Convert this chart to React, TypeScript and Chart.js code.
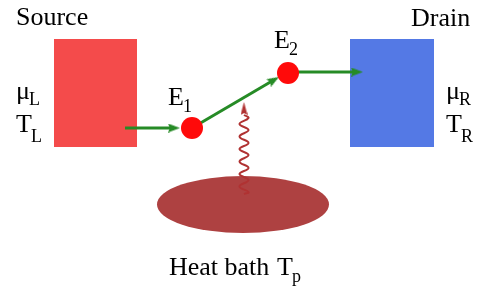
import React, { useEffect, useRef } from "react";
import { Chart, registerables } from "chart.js";
Chart.register(...registerables);

const W = 485;
const H = 288;

// Reservoirs: [left, right, top, bottom]
const sourceBox = [54, 137, 39, 147];
const drainBox = [350, 434, 39, 147];

// Energy levels E1, E2 (centres)
const levelX = [192, 288];
const levelY = [128, 73];

// Transport path: start point -> arrow tip
const arrowIn = [{ x: 125, y: 128 }, { x: 180, y: 128 }];
const arrowHop = [{ x: 192, y: 128 }, { x: 279, y: 77 }];
const arrowOut = [{ x: 288, y: 72 }, { x: 363, y: 72 }];

// Phonon (wavy) line from bath up to the hop: zig-zag extremes
const waveX = [244, 248.5, 239.5, 248.5, 239.5, 248.5, 239.5, 248.5, 239.5, 248.5, 239.5, 248.5, 239.5, 248.5, 244];
const waveY = [115, 118, 124, 130, 136.5, 143, 149, 155, 161.5, 168, 174, 180, 186.5, 192, 194];
const waveTip = [{ x: 244, y: 115 }, { x: 244, y: 102 }];

// Heat bath ellipse: centre and radii
const bathCenter = [243, 204.5];
const bathRadii = [86, 28.5];

// Labels
const labels = [
  { text: "Source", x: 16, y: 25 },
  { text: "Drain", x: 411, y: 26 },
  { text: "μ", sub: "L", x: 16, y: 99, drop: 6 },
  { text: "T", sub: "L", x: 16, y: 132, drop: 10 },
  { text: "μ", sub: "R", x: 446, y: 99, drop: 6 },
  { text: "T", sub: "R", x: 446, y: 132, drop: 10 },
  { text: "E", sub: "1", x: 168, y: 105, drop: 7 },
  { text: "E", sub: "2", x: 274, y: 48, drop: 7 },
  { text: "Heat bath", x: 169, y: 275 },
  { text: "T", sub: "p", x: 277, y: 275, drop: 7 },
];

const GREEN = "#268B26";
const WAVE = "#B03232";
const BATH = "#AE4141";

function makeHead(color: string, len: number, wid: number) {
  const c = document.createElement("canvas");
  c.width = len;
  c.height = wid;
  const g = c.getContext("2d")!;
  g.fillStyle = color;
  g.beginPath();
  g.moveTo(0, 0);
  g.lineTo(len, wid / 2);
  g.lineTo(0, wid);
  g.lineTo(len * 0.15, wid / 2);
  g.closePath();
  g.fill();
  return c;
}

function arrowDataset(pts: { x: number; y: number }[], head: HTMLCanvasElement, color: string, width: number) {
  const [a, b] = pts;
  const dx = b.x - a.x;
  const dy = b.y - a.y;
  const L = Math.hypot(dx, dy);
  const half = head.width / 2;
  const c = { x: b.x - (dx / L) * half, y: b.y - (dy / L) * half };
  const rot = (Math.atan2(dy, dx) * 180) / Math.PI;
  return {
    type: "line" as const,
    data: [a, c],
    borderColor: color,
    backgroundColor: color,
    borderWidth: width,
    tension: 0,
    fill: false,
    pointStyle: ["circle", head] as any,
    pointRadius: [0, 6],
    pointRotation: [0, rot],
    pointBorderWidth: 0,
  };
}

const bathPlugin = {
  id: "bath",
  beforeDatasetsDraw(chart: any) {
    const { ctx, scales } = chart;
    const cx = scales.x.getPixelForValue(bathCenter[0]);
    const cy = scales.y.getPixelForValue(bathCenter[1]);
    const rx = Math.abs(scales.x.getPixelForValue(bathCenter[0] + bathRadii[0]) - cx);
    const ry = Math.abs(scales.y.getPixelForValue(bathCenter[1] + bathRadii[1]) - cy);
    ctx.save();
    ctx.fillStyle = BATH;
    ctx.beginPath();
    ctx.ellipse(cx, cy, rx, ry, 0, 0, Math.PI * 2);
    ctx.fill();
    ctx.restore();
  },
};

const labelPlugin = {
  id: "labels",
  afterDatasetsDraw(chart: any) {
    const { ctx, scales } = chart;
    ctx.save();
    ctx.fillStyle = "#000";
    ctx.textBaseline = "alphabetic";
    ctx.textAlign = "left";
    for (const l of labels) {
      const x = scales.x.getPixelForValue(l.x);
      const y = scales.y.getPixelForValue(l.y);
      ctx.font = '26px "Liberation Serif", "Times New Roman", serif';
      ctx.fillText(l.text, x, y);
      if (l.sub) {
        const w = ctx.measureText(l.text).width;
        ctx.font = '18px "Liberation Serif", "Times New Roman", serif';
        ctx.fillText(l.sub, x + w - 1, y + (l.drop || 7));
      }
    }
    ctx.restore();
  },
};

export default function App() {
  const ref = useRef<HTMLCanvasElement>(null);
  useEffect(() => {
    document.body.style.margin = "0";
    const greenHead = makeHead(GREEN, 12, 9);
    const waveHead = makeHead(WAVE, 13, 7);
    const rect = (b: number[], color: string) => ({
      type: "line" as const,
      data: [
        { x: b[0], y: b[2] },
        { x: b[1], y: b[2] },
      ],
      borderColor: "transparent",
      backgroundColor: color,
      borderWidth: 0,
      pointRadius: 0,
      fill: { value: b[3] },
    });
    const chart = new Chart(ref.current!, {
      type: "line",
      data: {
        datasets: [
          {
            type: "line",
            data: levelX.map((x, i) => ({ x, y: levelY[i] })),
            showLine: false,
            pointRadius: 11,
            pointBackgroundColor: "#FF0A0A",
            pointBorderWidth: 0,
            borderColor: "transparent",
          } as any,
          arrowDataset(arrowIn, greenHead, GREEN, 3),
          arrowDataset(arrowHop, greenHead, GREEN, 3),
          arrowDataset(arrowOut, greenHead, GREEN, 3),
          arrowDataset(waveTip, waveHead, WAVE, 0.01),
          {
            type: "line",
            data: waveX.map((x, i) => ({ x, y: waveY[i] })),
            borderColor: WAVE,
            borderWidth: 2,
            tension: 0.45,
            pointRadius: 0,
            fill: false,
          } as any,
          rect(sourceBox, "#F44B4B"),
          rect(drainBox, "#5479E5"),
        ],
      },
      options: {
        animation: false,
        responsive: false,
        devicePixelRatio: 1,
        layout: { padding: 0, autoPadding: false },
        events: [],
        scales: {
          x: { type: "linear", min: 0, max: W, display: false },
          y: { type: "linear", min: 0, max: H, reverse: true, display: false },
        },
        plugins: {
          legend: { display: false },
          tooltip: { enabled: false },
        },
      },
      plugins: [bathPlugin, labelPlugin],
    });
    return () => chart.destroy();
  }, []);
  return (
    <div style={{ width: W, height: H, background: "#fff" }}>
      <canvas ref={ref} width={W} height={H} />
    </div>
  );
}
